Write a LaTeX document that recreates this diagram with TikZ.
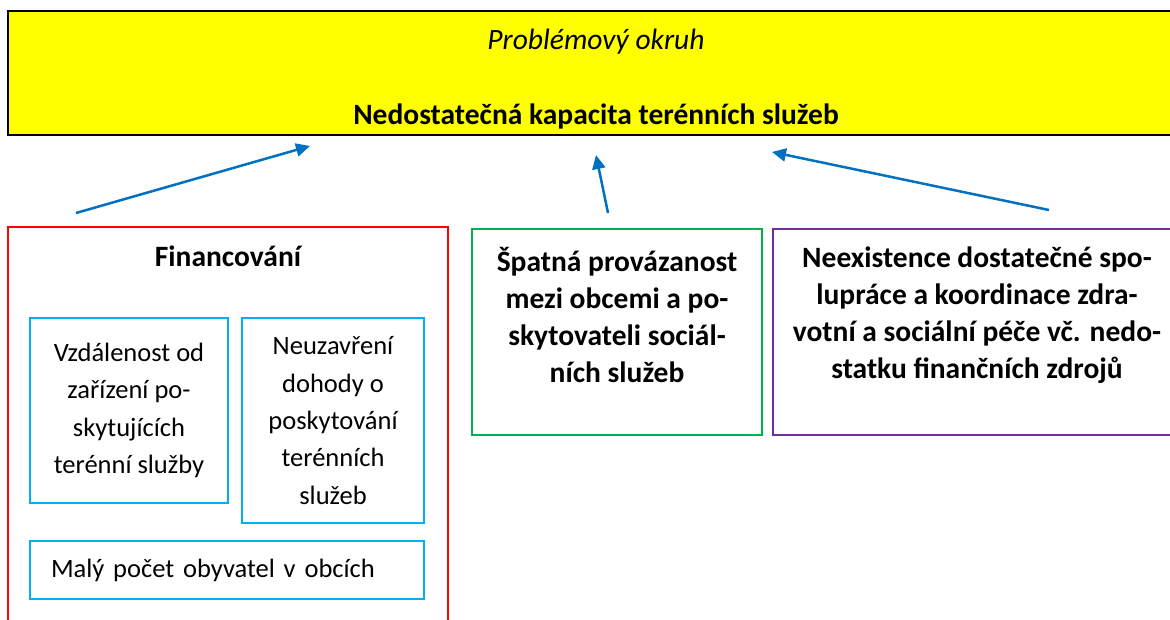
\documentclass[tikz,border=0pt]{standalone}
\usepackage{fontspec}
\setmainfont{Carlito}
\usepackage{xcolor}
\usetikzlibrary{positioning,arrows.meta}
\definecolor{probyellow}{RGB}{255,255,0}
\definecolor{finred}{RGB}{255,0,0}
\definecolor{lnkgreen}{RGB}{0,176,80}
\definecolor{coopviolet}{RGB}{112,48,160}
\definecolor{subblue}{RGB}{0,176,240}
\definecolor{linkblue}{RGB}{0,112,192}

\begin{document}
\begin{tikzpicture}[x=1pt, y=-1pt,
  topbox/.style={draw=black, line width=2pt, fill=probyellow, minimum width=1176pt, minimum height=124pt},
  group/.style={draw, line width=1.5pt},
  sub/.style={draw=subblue, line width=1.5pt, align=center, font=\fontsize{26.5}{37.3}\selectfont},
  heading/.style={align=center, font=\fontsize{29.5}{36.8}\selectfont\bfseries},
  link/.style={-{Triangle[length=14pt,width=13pt]}, line width=2.5pt, draw=linkblue}
]
\useasboundingbox (0,0) rectangle (1170,619);

% Problem area
\node[topbox] (problem) at (596,73) {};
\node[font=\fontsize{29.5}{34}\selectfont\itshape] (okruh) at (596,42) {Problémový okruh};
\node[heading] (kapacita) at (596,116) {Nedostatečná kapacita terénních služeb};

% Financing
\node[group, draw=finred, minimum width=440pt, minimum height=423pt] (fin) at (228,438.5) {};
\node[heading] (fintitle) at (228,256) {Financování};
\node[sub, minimum width=198pt, minimum height=185pt] (vzdal) at (129,410.5) {Vzdálenost od\\zařízení po-\\skytujících\\terénní služby};
\node[sub, minimum width=182pt, minimum height=205pt] (dohoda) at (333,420.5) {Neuzavření\\dohody o\\poskytování\\terénních\\služeb};
\node[sub, align=left, text width=352pt, inner xsep=21pt, minimum height=58pt] (obyv) at (227,570) {Malý počet obyvatel v obcích};

% Links between municipalities and providers
\node[group, draw=lnkgreen, minimum width=290pt, minimum height=206pt] (obce) at (617,332) {};
\node[heading] (obcetext) at (617,315) {Špatná provázanost\\mezi obcemi a po-\\skytovateli sociál-\\ních služeb};

% Cooperation of care
\node[group, draw=coopviolet, minimum width=417pt, minimum height=206pt] (pece) at (981.5,332) {};
\node[heading] (pecetext) at (977,315) {Neexistence dostatečné spo-\\lupráce a koordinace zdra-\\votní a sociální péče vč. nedo-\\statku finančních zdrojů};

% Arrows up to the problem
\coordinate (finfrom) at (76,213);
\coordinate (finto) at (310,146);
\coordinate (obcefrom) at (608,213);
\coordinate (obceto) at (596,155);
\coordinate (pecefrom) at (1049,210);
\coordinate (peceto) at (772,152);
\draw[link] (finfrom) -- (finto);
\draw[link] (obcefrom) -- (obceto);
\draw[link] (pecefrom) -- (peceto);

\end{tikzpicture}
\end{document}
